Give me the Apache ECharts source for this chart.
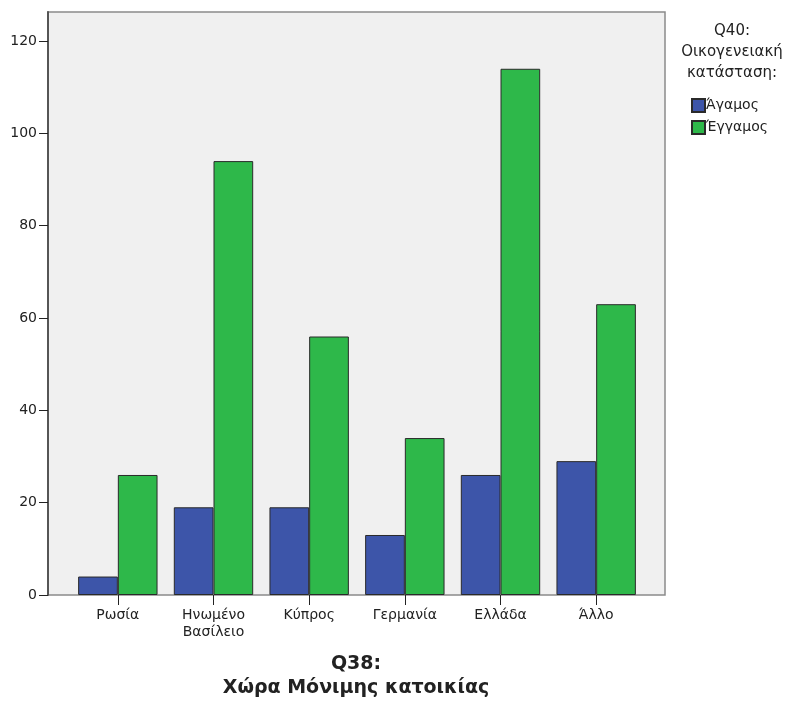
<!DOCTYPE html>
<html><head><meta charset="utf-8">
<script src="https://cdn.jsdelivr.net/npm/echarts@6/dist/echarts.min.js"></script>
<style>html,body{margin:0;padding:0;background:#fff}#c{width:795px;height:704px}</style>
</head><body><div id="c"></div>
<script>
const categories = ['Ρωσία', 'Ηνωμένο\nΒασίλειο', 'Κύπρος', 'Γερμανία', 'Ελλάδα', 'Άλλο'];
const seriesNames = ['Άγαμος', 'Έγγαμος'];
const agamos = [4, 19, 19, 13, 26, 29];
const eggamos = [26, 94, 56, 34, 114, 63];
const yTicks = [0, 20, 40, 60, 80, 100, 120];

const font = '"DejaVu Sans", Verdana, sans-serif';
const yMax = 126.3;
const chart = echarts.init(document.getElementById('c'), null, {renderer: 'canvas'});
chart.setOption({
  animation: false,
  backgroundColor: '#ffffff',
  title: [
    {text: 'Q40:\nΟικογενειακή\nκατάσταση:', left: 732, top: 21, textAlign: 'center', padding: 0,
     textStyle: {fontFamily: font, fontSize: 15, fontWeight: 'normal', color: '#222', lineHeight: 21, align: 'center'}},
    {text: 'Q38:\nΧώρα Μόνιμης κατοικίας', left: 356, top: 652, textAlign: 'center', padding: 0,
     textStyle: {fontFamily: font, fontSize: 19, fontWeight: 'bold', color: '#222', lineHeight: 24, align: 'center'}}
  ],
  legend: {
    orient: 'vertical', left: 691, top: 98, itemWidth: 13, itemHeight: 13, itemGap: 7, padding: 0,
    icon: 'rect', data: seriesNames,
    textStyle: {fontFamily: font, fontSize: 14, color: '#222', padding: [0, 0, 0, -4]}
  },
  grid: [
    {left: 48, right: 130, top: 12, bottom: 109, show: true, backgroundColor: '#f0f0f0',
     borderColor: '#8a8a8a', borderWidth: 1.5},
    {left: 70, right: 151, top: 12, bottom: 109}
  ],
  xAxis: [
    {gridIndex: 0, type: 'category', data: categories, show: false},
    {gridIndex: 1, type: 'category', data: categories, axisLine: {show: false},
     axisTick: {show: true, alignWithLabel: true, length: 10, lineStyle: {color: '#222', width: 1}},
     axisLabel: {fontFamily: font, fontSize: 14, color: '#222', margin: 12, lineHeight: 17}}
  ],
  yAxis: [
    {gridIndex: 0, type: 'value', min: 0, max: yMax, interval: 20,
     axisLine: {show: true, lineStyle: {color: '#555', width: 2}},
     axisTick: {show: true, length: 9, customValues: yTicks, lineStyle: {color: '#222', width: 1}},
     splitLine: {show: false},
     axisLabel: {fontFamily: font, fontSize: 14, color: '#222', margin: 11, customValues: yTicks}},
    {gridIndex: 1, type: 'value', min: 0, max: yMax, show: false, splitLine: {show: false}}
  ],
  series: [
    {name: seriesNames[0], type: 'bar', xAxisIndex: 1, yAxisIndex: 1, data: agamos,
     barGap: '0%', barCategoryGap: '17%',
     itemStyle: {color: '#3d55a9', borderColor: '#2a2a2a', borderWidth: 1}},
    {name: seriesNames[1], type: 'bar', xAxisIndex: 1, yAxisIndex: 1, data: eggamos,
     barGap: '0%', barCategoryGap: '17%',
     itemStyle: {color: '#2eb84a', borderColor: '#2a2a2a', borderWidth: 1}}
  ]
});
</script></body></html>
